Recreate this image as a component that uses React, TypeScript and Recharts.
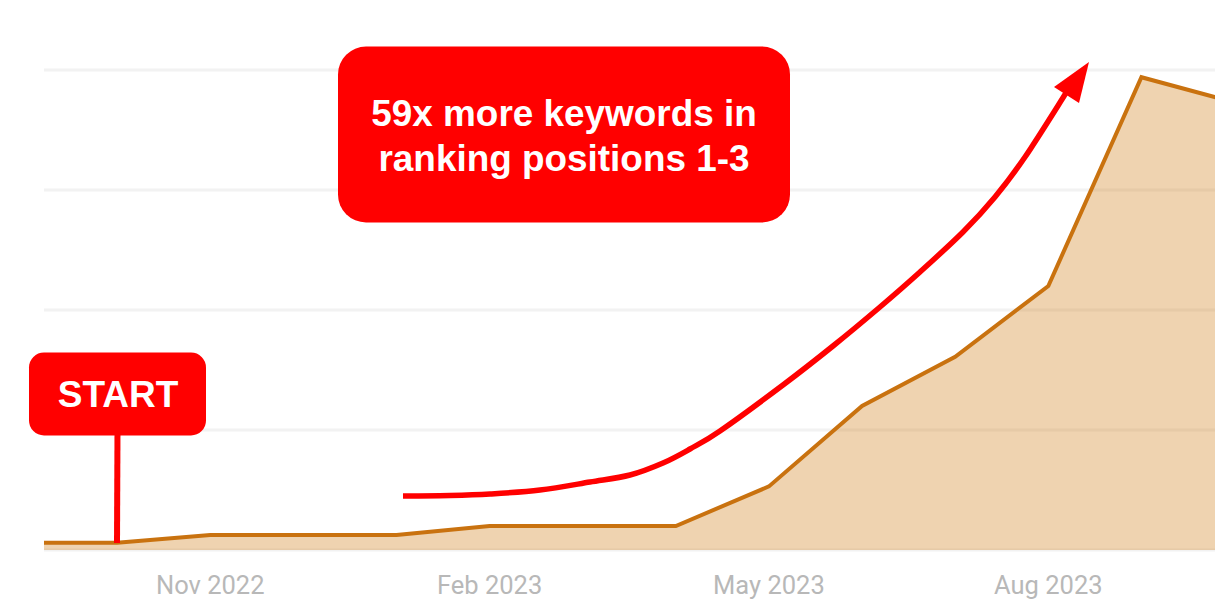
import { Area, AreaChart, CartesianGrid, XAxis, YAxis } from "recharts";

// months since Sep 2022, first and last run past the visible plot edges
const months = [0, 1, 2, 3, 4, 5, 6, 7, 8, 9, 10, 11, 12, 13];
const keywords = [6, 6, 12.5, 12.5, 12.5, 20, 20, 20, 53, 120, 161, 220, 394, 373];
const tickMonths = [2, 5, 8, 11];
const tickLabels = ["Nov 2022", "Feb 2023", "May 2023", "Aug 2023"];
const gridValues = [0, 100, 200, 300, 400];

const rows = months.map((m, i) => ({ month: m, value: keywords[i] }));

// hand traced annotation arrow, in page pixels
const arrowTrace = [
  [403, 496], [450, 495.5], [490, 494], [540, 490], [590, 482], [630, 475], [663, 463],
  [690, 449], [720, 431], [783, 385], [833, 346], [880, 307], [920, 272], [963, 232],
  [995, 197], [1025, 157], [1066, 93],
];

const smoothPath = (pts: number[][]) => {
  let d = `M${pts[0][0]},${pts[0][1]}`;
  for (let i = 0; i < pts.length - 1; i++) {
    const p0 = pts[Math.max(i - 1, 0)];
    const p1 = pts[i];
    const p2 = pts[i + 1];
    const p3 = pts[Math.min(i + 2, pts.length - 1)];
    const c1x = p1[0] + (p2[0] - p0[0]) / 6;
    const c1y = p1[1] + (p2[1] - p0[1]) / 6;
    const c2x = p2[0] - (p3[0] - p1[0]) / 6;
    const c2y = p2[1] - (p3[1] - p1[1]) / 6;
    d += ` C${c1x},${c1y} ${c2x},${c2y} ${p2[0]},${p2[1]}`;
  }
  return d;
};

const RED = "#ff0000";
const labelFont = "'Liberation Sans', Arial, sans-serif";

const App = () => {
  return (
    <div style={{ position: "absolute", left: 0, top: 0, width: 1226, height: 607, background: "#fff" }}>
      <AreaChart
        width={1226}
        height={607}
        data={rows}
        margin={{ top: 70, right: 11, bottom: 0, left: 44 }}
      >
        <CartesianGrid horizontal vertical={false} stroke="#f2f2f2" strokeWidth={3} />
        <XAxis
          dataKey="month"
          type="number"
          domain={[0.215, 12.79]}
          allowDataOverflow
          ticks={tickMonths}
          tickFormatter={(m: number) => tickLabels[tickMonths.indexOf(m)]}
          axisLine={false}
          tickLine={false}
          height={57}
          tickMargin={20}
          tick={{ fill: "#b8b8b8", fontSize: 25.5, fontFamily: "Roboto, sans-serif" }}
        />
        <YAxis hide domain={[0, 400]} ticks={gridValues} />
        <Area
          dataKey="value"
          type="linear"
          stroke="#c9720f"
          strokeWidth={4}
          fill="#cc7000"
          fillOpacity={0.31}
          dot={false}
          activeDot={false}
          isAnimationActive={false}
        />
      </AreaChart>
      <svg
        width={1226}
        height={607}
        style={{ position: "absolute", left: 0, top: 0, pointerEvents: "none" }}
      >
        <path d={smoothPath(arrowTrace)} fill="none" stroke={RED} strokeWidth={5.5} />
        <polygon points="1089,62 1054,87 1079,103" fill={RED} />
        <line x1={117.5} y1={430} x2={117} y2={543} stroke={RED} strokeWidth={6} />
        <rect x={29} y={352.5} width={177} height={83} rx={15} fill={RED} />
        <text
          x={118}
          y={407}
          textAnchor="middle"
          fill="#fff"
          fontFamily={labelFont}
          fontWeight={700}
          fontSize={37}
        >
          START
        </text>
        <rect x={338} y={46.5} width={452} height={176} rx={28} fill={RED} />
        <text
          x={564}
          y={125.5}
          textAnchor="middle"
          fill="#fff"
          fontFamily={labelFont}
          fontWeight={700}
          fontSize={36.9}
        >
          59x more keywords in
        </text>
        <text
          x={564}
          y={170.5}
          textAnchor="middle"
          fill="#fff"
          fontFamily={labelFont}
          fontWeight={700}
          fontSize={36.9}
        >
          ranking positions 1-3
        </text>
      </svg>
    </div>
  );
};

export default App;
